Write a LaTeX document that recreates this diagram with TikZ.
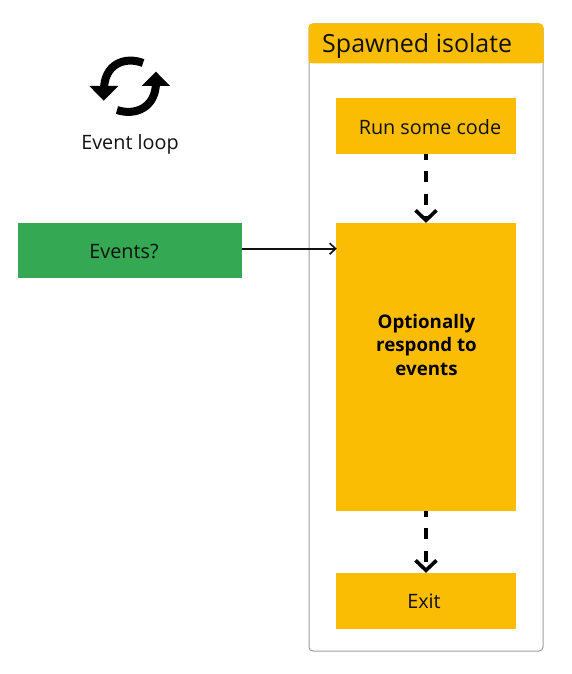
\documentclass[tikz,border=0pt]{standalone}
\usepackage{fontspec}
\setmainfont{Open Sans}
\usetikzlibrary{arrows.meta}
\definecolor{amberfill}{HTML}{FBBC04}
\definecolor{greenfill}{HTML}{34A853}
\definecolor{framegray}{HTML}{9E9E9E}
\definecolor{inkdark}{HTML}{111111}
\tikzset{
  x=1pt,y=-1pt,
  amberbox/.style={fill=amberfill,draw=none,inner sep=0pt,minimum width=180pt},
  labeltext/.style={inner sep=0pt,text=inkdark,font=\fontsize{19.8}{23}\selectfont},
  flowdash/.style={line width=3.6pt,black,dash pattern=on 11pt off 11.5pt,dash phase=5.5pt,
    -{Straight Barb[length=10pt,width=21pt,line width=3.6pt]}},
  thinarrow/.style={line width=1.6pt,inkdark,-{Straight Barb[length=6pt,width=11pt,line width=1.6pt]}},
  loopstroke/.style={line width=8pt,black},
}
\begin{document}
\begin{tikzpicture}
\useasboundingbox (0,0) rectangle (572,674);
% container
\draw[framegray,line width=1pt,fill=white,rounded corners=4pt] (309,24) rectangle (543,651);
\fill[amberfill,rounded corners=4pt] (308.5,63.5) -- (308.5,23.5) -- (543.5,23.5) -- (543.5,63.5) -- cycle;
\fill[amberfill] (308.5,50) rectangle (543.5,63.5);
\node[anchor=base west,inner sep=0pt,text=inkdark,font=\fontsize{25}{28}\selectfont] (title) at (322,53) {Spawned isolate};
% boxes
\node[amberbox,minimum height=56pt] (run) at (426,126) {};
\node[labeltext] (runlabel) at (430,127) {Run some code};
\node[amberbox,minimum height=288pt] (big) at (426,367) {};
\node[inner sep=0pt,align=center,text=black,font=\fontsize{18.7}{23.5}\selectfont\bfseries] (biglabel) at (426.5,344.5) {Optionally\\respond to\\events};
\node[amberbox,minimum height=56pt] (exit) at (426,601) {};
\node[labeltext] (exitlabel) at (424,601.5) {Exit};
\node[fill=greenfill,inner sep=0pt,minimum width=224pt,minimum height=55pt] (events) at (130,250.5) {};
\node[labeltext] (eventslabel) at (124,251) {Events?};
% connectors
\draw[flowdash] (run.south) -- (big.north);
\draw[flowdash] (big.south) -- (exit.north);
\draw[thinarrow] ([yshift=1.8pt]events.east) -- ([yshift=1.8pt,xshift=1pt]events.east -| big.west);
% event loop icon
\draw[loopstroke] (143,63) .. controls (125,56) and (104,64) .. (104,90);
\fill[black] (89.3,86) -- (118.3,86) -- (103.8,100.7) -- cycle;
\draw[loopstroke] (117,110) .. controls (135,116) and (156,108) .. (156,82);
\fill[black] (141.7,86) -- (170,86) -- (156,71.7) -- cycle;
\node[labeltext] (looplabel) at (130,144) {Event loop};
\end{tikzpicture}
\end{document}
